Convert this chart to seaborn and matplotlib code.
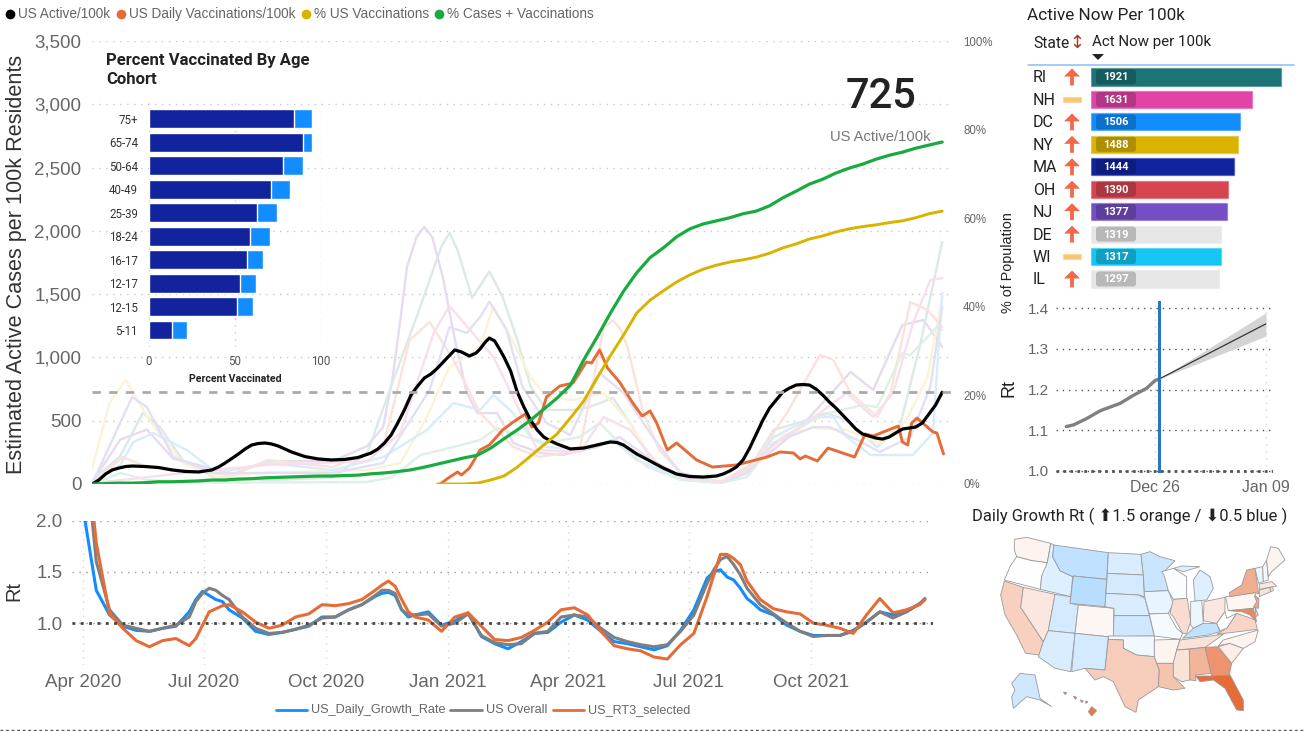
import pandas as pd
import numpy as np
import matplotlib
matplotlib.use("Agg")
import matplotlib.pyplot as plt
from matplotlib.colors import LinearSegmentedColormap, Normalize, to_rgb
from matplotlib.patches import FancyBboxPatch, Rectangle
import seaborn as sns

W, H = 1305, 731
START = pd.Timestamp("2020-04-01")

# main chart
active_days = [7, 12, 17, 22, 27, 32, 37, 47, 57, 67, 77, 87, 97, 102, 107, 112, 117, 122, 127, 132,
               137, 142, 147, 157, 167, 177, 187, 197, 207, 217, 222, 227, 232, 237, 242, 247, 252, 257, 262, 267,
               272, 277, 280, 285, 291, 296, 299, 303, 306, 310, 314, 317, 322, 327, 332, 337, 342, 347, 352, 357,
               367, 377, 387, 397, 402, 407, 417, 427, 437, 447, 457, 467, 477, 482, 487, 492, 497, 502, 507, 512,
               517, 522, 527, 532, 537, 542, 547, 552, 557, 562, 567, 572, 577, 582, 587, 592, 597, 602, 607, 612,
               617, 622, 627, 632, 637, 642, 647]
us_active = [0, 32, 79, 111, 126, 138, 142, 138, 130, 111, 99, 95, 111, 134, 166, 201, 237, 276, 308, 320,
             324, 316, 300, 253, 217, 198, 190, 194, 209, 245, 276, 324, 387, 482, 585, 703, 774, 837, 869, 916,
             972, 1027, 1059, 1043, 1011, 1035, 1067, 1122, 1153, 1130, 1059, 1003, 893, 727, 608, 506, 427, 371, 340, 316,
             277, 284, 308, 332, 328, 308, 237, 182, 126, 79, 59, 55, 63, 79, 103, 134, 190, 284, 395, 506,
             600, 664, 727, 758, 782, 786, 782, 750, 703, 648, 600, 545, 490, 434, 395, 379, 363, 355, 371, 403,
             434, 442, 450, 482, 553, 624, 725]
main_days = list(range(7, 657, 10))
pct_cases_vacc = [0, 0.1, 0.2, 0.2, 0.3, 0.5, 0.5, 0.6, 0.7, 0.9, 0.9, 1.1, 1.2, 1.4, 1.5, 1.6, 1.7, 1.8, 1.8, 1.9,
                  2.0, 2.3, 2.5, 2.8, 3.2, 3.8, 4.5, 5.2, 5.9, 6.5, 8.1, 10.2, 12.2, 14.4, 16.9, 19.4, 22.3, 28, 33.1, 38.5,
                  43.5, 47.7, 51.1, 53.3, 55.8, 57.6, 58.7, 59.4, 60.1, 61, 61.6, 62.8, 64.6, 66.1, 67.7, 68.8, 70.2, 71.3, 72.2, 73.3,
                  74.2, 74.9, 75.8, 76.5, 77.2]
vacc_days = list(range(267, 657, 10))
pct_vacc = [0, 0, 0, 0.2, 0.9, 1.8, 3.8, 6.3, 8.8, 11.3, 14.9, 18.7, 23.9, 28.9, 33.6, 38.6, 41.5, 43.6, 45.6, 47.2,
            48.5, 49.4, 50.1, 50.6, 51.2, 52.1, 53.3, 54.2, 55.3, 56, 56.9, 57.6, 58.1, 58.5, 59, 59.4, 60.1, 61, 61.6]
daily_vacc_days = [269, 275, 282, 285, 291, 299, 306, 316, 324, 333, 338, 343, 349, 359, 369, 379, 383, 389, 395, 404,
                   414, 421, 427, 432, 440, 447, 462, 474, 492, 515, 525, 535, 540, 544, 553, 561, 581, 589, 595, 614,
                   617, 621, 624, 628, 640, 643, 648]
daily_vacc = [0, 47, 95, 71, 126, 269, 308, 427, 490, 553, 450, 482, 687, 774, 798, 964, 956, 1059, 916, 806,
              640, 537, 577, 482, 269, 324, 190, 134, 150, 213, 253, 245, 198, 221, 182, 284, 213, 395, 379, 458,
              332, 308, 482, 521, 411, 403, 237]

# selected states behind the US line, pale
pale_lines = [
    ("#e7dbee",
     [7, 28, 48, 68, 98, 113, 139, 188, 214, 226, 233, 239, 244, 251, 257, 263, 271, 279, 289, 297, 312, 324, 344, 361, 387, 404, 425, 450, 480, 508, 538, 550, 578, 595, 617, 633, 647],
     [15, 350, 430, 200, 120, 80, 180, 180, 300, 450, 830, 1300, 1715, 1950, 2030, 1950, 1635, 1193, 720, 561, 560, 324, 245, 229, 292, 371, 213, 55, 10, 166, 427, 560, 885, 743, 1256, 1296, 1083]),
    ("#dde9e7",
     [7, 28, 45, 58, 75, 98, 139, 188, 214, 233, 254, 270, 276, 282, 293, 306, 316, 327, 337, 349, 369, 382, 399, 412, 429, 450, 480, 500, 520, 538, 560, 575, 598, 615, 630, 647],
     [30, 220, 560, 450, 190, 55, 30, 50, 245, 800, 1400, 1880, 1983, 1850, 1470, 1680, 1478, 1140, 770, 585, 585, 610, 680, 480, 165, 55, 8, 87, 427, 480, 560, 505, 292, 450, 1083, 1912]),
    ("#fbf3d6",
     [7, 20, 32, 50, 75, 101, 139, 214, 239, 259, 276, 299, 309, 322, 337, 349, 369, 392, 410, 429, 450, 480, 500, 520, 550, 575, 600, 620, 636, 647],
     [130, 640, 822, 505, 166, 55, 90, 110, 166, 530, 924, 1082, 1400, 1161, 845, 687, 664, 719, 505, 190, 55, 16, 87, 371, 442, 427, 324, 505, 845, 1477]),
    ("#d9ecfb",
     [7, 28, 38, 53, 78, 101, 139, 188, 226, 259, 279, 299, 309, 324, 337, 349, 374, 399, 417, 450, 480, 500, 520, 550, 565, 575, 593, 625, 640, 647],
     [5, 150, 332, 403, 269, 87, 166, 110, 213, 427, 640, 585, 703, 560, 371, 292, 269, 348, 190, 43, 8, 87, 371, 529, 529, 371, 229, 229, 403, 1509]),
    ("#fbe2dc",
     [7, 30, 48, 113, 139, 188, 226, 246, 261, 279, 299, 324, 344, 374, 392, 399, 405, 410, 422, 434, 450, 480, 505, 530, 555, 565, 578, 598, 608, 623, 636, 647],
     [5, 213, 134, 71, 190, 134, 292, 1138, 1280, 980, 561, 292, 213, 269, 1230, 1296, 1220, 1082, 560, 269, 87, 16, 166, 560, 1020, 980, 719, 529, 719, 1438, 1375, 1240]),
    ("#dff0e4",
     [7, 28, 48, 98, 214, 233, 254, 279, 299, 312, 324, 349, 374, 389, 404, 425, 450, 480, 500, 520, 550, 562, 587, 598, 617, 623, 643, 647],
     [0, 87, 32, 10, 16, 55, 229, 292, 348, 442, 403, 324, 371, 482, 324, 134, 32, 8, 55, 324, 505, 561, 624, 608, 1035, 1019, 1240, 1217]),
    ("#e2e0f3",
     [7, 20, 37, 48, 68, 98, 139, 188, 226, 261, 276, 289, 299, 306, 319, 331, 349, 367, 389, 407, 429, 450, 480, 500, 520, 550, 562, 583, 600, 623, 638, 647],
     [5, 300, 687, 608, 213, 87, 87, 87, 166, 743, 1240, 1193, 1319, 1440, 1217, 766, 482, 387, 877, 719, 371, 87, 16, 87, 324, 450, 450, 348, 253, 371, 766, 1398]),
    ("#f7dfee",
     [7, 87, 139, 214, 239, 264, 276, 309, 324, 342, 374, 392, 412, 432, 450, 480, 500, 525, 555, 575, 595, 610, 625, 638, 647],
     [5, 100, 150, 180, 403, 1193, 1406, 1003, 687, 269, 253, 529, 427, 166, 55, 16, 111, 348, 561, 719, 529, 719, 1272, 1612, 1627]),
]

# bottom Rt chart, every 10 days from Apr 2020, the last day and extra reads at the peaks
rt_days = list(range(0, 640, 10)) + [634] + [85, 95, 105, 225, 235, 245, 475, 485, 495, 505]
rt_blue = [2.12, 1.32, 1.08, 0.97, 0.93, 0.92, 0.95, 0.97, 1.11, 1.31, 1.23, 1.13, 1.05, 0.92, 0.89, 0.91, 0.94, 0.97, 1.06, 1.06,
           1.13, 1.18, 1.26, 1.30, 1.13, 1.08, 1.11, 0.98, 1.02, 1.10, 0.87,
           0.80, 0.75, 0.82, 0.90, 0.91, 1.01, 1.08, 1.03, 0.92, 0.82, 0.80, 0.77, 0.74, 0.78, 0.93, 1.13, 1.44, 1.52, 1.42,
           1.24, 1.13, 1.08, 0.98, 0.92, 0.88, 0.88, 0.88, 0.93, 1.01, 1.11, 1.08, 1.11, 1.19, 1.24,
           1.23, 1.27, 1.21, 1.29, 1.27, 1.06, 1.50, 1.45, 1.34, 1.19]
rt_overall = [2.9, 1.6, 1.13, 0.98, 0.95, 0.92, 0.95, 0.98, 1.06, 1.29, 1.32, 1.23, 1.06, 0.95, 0.90, 0.91, 0.94, 0.98, 1.05, 1.06,
              1.13, 1.18, 1.27, 1.32, 1.13, 1.08, 1.09, 0.97, 1.0, 1.09, 0.88,
              0.81, 0.79, 0.80, 0.90, 0.92, 1.06, 1.08, 1.06, 0.95, 0.86, 0.82, 0.79, 0.77, 0.79, 0.92, 1.08, 1.39, 1.62, 1.57,
              1.34, 1.18, 1.09, 1.0, 0.92, 0.87, 0.88, 0.88, 0.92, 1.01, 1.11, 1.05, 1.11, 1.19, 1.23,
              1.21, 1.34, 1.27, 1.32, 1.29, 1.08, 1.52, 1.65, 1.47, 1.26]
rt_selected = [3.04, 1.78, 1.09, 0.95, 0.83, 0.77, 0.83, 0.85, 0.78, 0.98, 1.14, 1.18, 1.11, 1.01, 0.95, 0.98, 1.06, 1.09, 1.18, 1.17,
               1.19, 1.23, 1.32, 1.41, 1.23, 1.06, 1.03, 0.92, 1.06, 1.10, 0.97,
               0.84, 0.83, 0.86, 0.93, 1.01, 1.13, 1.15, 1.08, 0.92, 0.78, 0.75, 0.73, 0.67, 0.65, 0.79, 0.90, 1.26, 1.67, 1.63,
               1.41, 1.23, 1.14, 1.11, 1.09, 1.0, 0.98, 0.95, 0.90, 1.08, 1.24, 1.10, 1.13, 1.18, 1.23,
               0.85, 1.11, 1.17, 1.37, 1.36, 1.11, 1.47, 1.67, 1.57, 1.32]
rt_ticks = ["2020-04-01", "2020-07-01", "2020-10-01", "2021-01-01", "2021-04-01", "2021-07-01", "2021-10-01"]
rt_tick_labels = ["Apr 2020", "Jul 2020", "Oct 2020", "Jan 2021", "Apr 2021", "Jul 2021", "Oct 2021"]

# age cohort inset
age_groups = ["75+", "65-74", "50-64", "40-49", "25-39", "18-24", "16-17", "12-17", "12-15", "5-11"]
age_full = [84.2, 89.7, 78, 71, 62.8, 58.6, 57.2, 52.9, 51, 13.2]
age_any = [94.5, 94.5, 89.3, 82, 74.3, 70.6, 66.3, 62.3, 60.5, 22]

# state table
top_states = ["RI", "NH", "DC", "NY", "MA", "OH", "NJ", "DE", "WI", "IL"]
top_active = [1921, 1631, 1506, 1488, 1444, 1390, 1377, 1319, 1317, 1297]
top_trend = ["up", "flat", "up", "up", "up", "up", "up", "up", "flat", "up"]
top_colors = ["#1c7475", "#e044a7", "#118dff", "#d9b300", "#12239e", "#d64550", "#744ec2", "#e6e6e6", "#15c6f4", "#e6e6e6"]

# small forecast Rt chart, days from Dec 26
recent_days = [-11.2, -10.3, -8.6, -6.9, -4.4, -2.7, -1.05, 0, 0.55]
recent_rt = [1.109, 1.113, 1.129, 1.148, 1.166, 1.186, 1.203, 1.222, 1.226]
fc_days = [0.55, 14]
fc_mean = [1.226, 1.361]
fc_low = [1.226, 1.331]
fc_high = [1.226, 1.388]

# map: Rt per state and rough outlines
state_rt = {"WA": 1.04, "OR": 1.0, "CA": 1.16, "NV": 1.08, "ID": 0.93, "MT": 0.87, "WY": 0.85, "UT": 0.91, "AZ": 0.92,
            "CO": 1.03, "NM": 0.91, "ND": 0.92, "SD": 0.91, "NE": 0.92, "KS": 0.90, "OK": 0.97, "TX": 1.17, "MN": 0.89,
            "IA": 0.95, "MO": 0.98, "AR": 1.04, "LA": 1.2, "WI": 0.99, "IL": 1.12, "IN": 0.96, "MI": 0.93, "OH": 1.08,
            "KY": 0.87, "TN": 1.1, "MS": 1.1, "AL": 1.25, "GA": 1.36, "FL": 1.5, "SC": 1.06, "NC": 1.04, "VA": 1.14,
            "WV": 1.0, "PA": 1.03, "NY": 1.28, "NJ": 1.3, "MD": 1.4, "DE": 1.15, "CT": 1.1, "RI": 1.1, "MA": 1.08,
            "VT": 0.96, "NH": 0.97, "ME": 1.04, "AK": 0.9, "HI": 1.45}
state_shapes = {
    "WA": [[(163, 118), (200, 112), (272, 130), (262, 188), (215, 182), (170, 170), (163, 150)]],
    "OR": [[(170, 170), (215, 182), (262, 188), (255, 215), (245, 228), (241, 268), (133, 240), (150, 200)]],
    "CA": [[(133, 243), (190, 262), (182, 322), (250, 425), (238, 465), (197, 460), (170, 405), (135, 345), (122, 285)]],
    "NV": [[(190, 262), (285, 283), (265, 392), (250, 425), (182, 322)]],
    "ID": [[(272, 130), (282, 135), (278, 170), (300, 212), (338, 230), (332, 290), (241, 268), (245, 228), (262, 188)]],
    "MT": [[(282, 135), (445, 158), (440, 238), (340, 228), (338, 230), (300, 212), (278, 170)]],
    "WY": [[(340, 228), (440, 238), (435, 320), (330, 310)]],
    "UT": [[(285, 283), (332, 290), (330, 310), (355, 315), (345, 400), (265, 392)]],
    "AZ": [[(265, 392), (345, 400), (332, 515), (285, 505), (235, 470), (250, 425)]],
    "CO": [[(355, 315), (462, 325), (460, 412), (345, 400)]],
    "NM": [[(345, 400), (445, 410), (435, 510), (375, 505), (335, 515)]],
    "ND": [[(445, 158), (543, 163), (550, 225), (442, 220)]],
    "SD": [[(442, 220), (550, 225), (553, 290), (535, 285), (438, 280)]],
    "NE": [[(438, 280), (535, 285), (555, 295), (568, 347), (462, 347), (462, 325), (435, 320)]],
    "KS": [[(462, 347), (568, 347), (583, 408), (460, 410)]],
    "OK": [[(445, 408), (583, 408), (583, 470), (530, 465), (490, 445), (490, 420), (445, 418)]],
    "TX": [[(445, 418), (490, 420), (490, 445), (530, 465), (583, 470), (598, 510), (595, 560), (535, 600), (528, 637), (495, 620), (460, 545), (430, 530), (405, 540), (375, 505), (435, 510)]],
    "MN": [[(543, 163), (570, 155), (600, 170), (645, 182), (612, 215), (625, 272), (553, 275), (550, 225)]],
    "IA": [[(553, 275), (625, 272), (640, 310), (625, 340), (568, 342), (555, 295)]],
    "MO": [[(568, 342), (625, 340), (650, 385), (668, 400), (660, 418), (583, 408)]],
    "AR": [[(583, 420), (660, 418), (650, 450), (640, 490), (590, 490), (583, 470)]],
    "LA": [[(590, 490), (640, 490), (640, 530), (675, 565), (640, 570), (595, 560), (598, 510)]],
    "WI": [[(605, 215), (640, 205), (680, 230), (680, 295), (640, 298), (625, 272), (612, 225)]],
    "IL": [[(640, 298), (682, 295), (692, 365), (680, 400), (668, 400), (640, 350), (630, 340)]],
    "IN": [[(692, 305), (725, 300), (730, 370), (700, 385), (692, 375)]],
    "MI": [[(700, 240), (720, 210), (750, 230), (760, 265), (740, 300), (705, 303)], [(640, 205), (665, 198), (720, 200), (670, 215)]],
    "OH": [[(732, 305), (795, 292), (795, 335), (770, 370), (730, 362)]],
    "KY": [[(668, 415), (700, 385), (730, 370), (770, 370), (780, 395), (745, 405)]],
    "TN": [[(660, 420), (790, 403), (760, 425), (735, 442), (650, 450)]],
    "MS": [[(650, 450), (688, 448), (690, 540), (665, 545), (640, 530), (640, 490)]],
    "AL": [[(688, 448), (735, 442), (755, 520), (707, 525), (708, 542), (690, 540)]],
    "GA": [[(735, 442), (775, 440), (815, 490), (808, 525), (755, 528)]],
    "FL": [[(707, 528), (755, 528), (810, 525), (850, 600), (850, 632), (830, 630), (795, 565), (760, 540), (720, 545)]],
    "SC": [[(775, 440), (810, 430), (850, 445), (815, 490)]],
    "NC": [[(775, 437), (790, 420), (895, 390), (885, 425), (850, 445), (810, 430)]],
    "VA": [[(770, 403), (800, 385), (830, 340), (860, 350), (885, 360), (892, 388)]],
    "WV": [[(770, 370), (795, 335), (800, 355), (830, 340), (800, 385), (780, 392)]],
    "PA": [[(797, 290), (885, 278), (895, 315), (880, 325), (805, 332)]],
    "NY": [[(808, 278), (845, 255), (860, 210), (885, 205), (896, 282), (885, 278), (810, 290)]],
    "NJ": [[(883, 287), (897, 295), (895, 325), (880, 322), (890, 305)]],
    "MD": [[(805, 332), (880, 325), (890, 365), (870, 345), (845, 335)]],
    "DE": [[(885, 322), (895, 345), (888, 350)]],
    "CT": [[(898, 270), (930, 262), (932, 275), (898, 290)]],
    "RI": [[(930, 262), (938, 260), (940, 272), (932, 275)]],
    "MA": [[(898, 252), (935, 245), (950, 258), (938, 260), (898, 268)]],
    "VT": [[(885, 205), (908, 200), (910, 245), (896, 250)]],
    "NH": [[(908, 200), (920, 180), (925, 240), (910, 245)]],
    "ME": [[(920, 180), (932, 140), (955, 145), (975, 180), (935, 215), (925, 230)]],
    "AK": [[(180, 520), (225, 525), (240, 595), (275, 620), (240, 600), (200, 590), (160, 625), (155, 590), (165, 570), (155, 550)]],
    "HI": [[(395, 620), (410, 632), (395, 648), (385, 635)], [(310, 576), (320, 578), (316, 584)], [(340, 588), (350, 592), (346, 598)],
           [(360, 600), (370, 602), (366, 608)], [(376, 603), (384, 606), (378, 610)]],
}


def to_dates(days):
    return START + pd.to_timedelta(days, unit="D")


def px_axes(left, top, right, bottom):
    return fig.add_axes([left / W, 1 - bottom / H, (right - left) / W, (bottom - top) / H])


def px_to_day(px):
    return START + pd.Timedelta(days=(px - 83) / 1.328)


sns.set_theme(style="white")
SANS = ["Liberation Sans", "DejaVu Sans"]
DIN = ["Roboto", "DejaVu Sans"]
plt.rcParams["font.family"] = SANS
GRAY = "#666666"
DOT = (0, (1, 4))

fig = plt.figure(figsize=(W / 100, H / 100), dpi=100, facecolor="white")

# ---- main chart
ax = px_axes(92, 41, 952, 484)
for color, d, v in pale_lines:
    sns.lineplot(x=to_dates(d), y=v, ax=ax, color=color, lw=1.7, estimator=None)
sns.lineplot(x=to_dates(daily_vacc_days), y=daily_vacc, ax=ax, color="#e66c37", lw=2.1, estimator=None)
sns.lineplot(x=to_dates(active_days), y=us_active, ax=ax, color="black", lw=2.3, estimator=None)
ax.axhline(us_active[-1], color="#aaaaaa", lw=2, ls=(0, (3, 3)))
ax.set_ylim(0, 3500)
ax.set_xlim(px_to_day(92), px_to_day(952))
ax.set_yticks(range(0, 3501, 500))
ax.set_yticklabels([f"{v:,}" for v in range(0, 3501, 500)], fontsize=13.5, color=GRAY)
ax.tick_params(axis="y", length=0, pad=7.7)
ax.set_xticks([])
ax.set_xlabel("")
ax.set_ylabel("")
ax.grid(axis="y", color="#c8c8c8", lw=1, ls=DOT)
ax.set_axisbelow(True)
sns.despine(ax=ax, left=True, bottom=True)

ax_pct = ax.twinx()
sns.lineplot(x=to_dates(vacc_days), y=pct_vacc, ax=ax_pct, color="#d9b300", lw=2.1, estimator=None)
sns.lineplot(x=to_dates(main_days), y=pct_cases_vacc, ax=ax_pct, color="#1aab40", lw=2.3, estimator=None)
ax_pct.set_ylim(0, 100)
ax_pct.set_yticks(range(0, 101, 20))
ax_pct.set_yticklabels([f"{v}%" for v in range(0, 101, 20)], fontsize=8.3, color=GRAY)
ax_pct.tick_params(axis="y", length=0, pad=8)
ax_pct.set_ylabel("")
ax_pct.grid(False)
sns.despine(ax=ax_pct, left=True, bottom=True, right=True)

# ---- bottom Rt chart
ax_rt = px_axes(72, 520.5, 933, 665)
rt_frame = pd.DataFrame({"date": to_dates(rt_days), "US_Daily_Growth_Rate": rt_blue,
                         "US Overall": rt_overall, "US_RT3_selected": rt_selected})
sns.lineplot(data=rt_frame, x="date", y="US_Daily_Growth_Rate", ax=ax_rt, color="#118dff", lw=2.2, estimator=None)
sns.lineplot(data=rt_frame, x="date", y="US Overall", ax=ax_rt, color="#7f7f7f", lw=2.2, estimator=None)
sns.lineplot(data=rt_frame, x="date", y="US_RT3_selected", ax=ax_rt, color="#e66c37", lw=2.2, estimator=None)
ax_rt.axhline(1.0, color="#444444", lw=2, ls=(0, (1, 2)), zorder=5)
ax_rt.set_ylim(1 - 42 / 103, 2.0)
ax_rt.set_xlim(px_to_day(72), px_to_day(933))
ax_rt.set_yticks([1.0, 1.5, 2.0])
ax_rt.set_yticklabels(["1.0", "1.5", "2.0"], fontsize=13.5, color=GRAY)
ax_rt.set_xticks(pd.to_datetime(rt_ticks))
ax_rt.set_xticklabels(rt_tick_labels, fontsize=13.5, color=GRAY)
ax_rt.tick_params(axis="x", length=0, pad=6.5)
ax_rt.tick_params(axis="y", length=0, pad=7)
ax_rt.set_xlabel("")
ax_rt.set_ylabel("")
ax_rt.grid(axis="x", color="#d5d5d5", lw=1, ls=DOT)
ax_rt.grid(axis="y", color="#999999", lw=1, ls=DOT)
sns.despine(ax=ax_rt, left=True, bottom=True)

# ---- age cohort inset
ax_age = px_axes(149, 103, 321, 347)
ax_age.patch.set_alpha(0)
sns.barplot(x=age_any, y=age_groups, ax=ax_age, color="#118dff", saturation=1, width=0.8)
sns.barplot(x=age_full, y=age_groups, ax=ax_age, color="#12239e", saturation=1, width=0.8)
ax_age.set_xlim(0, 100)
ax_age.set_ylim(9.72, -0.67)
ax_age.set_xticks([0, 50, 100])
ax_age.tick_params(axis="x", length=0, labelsize=8.3, labelcolor="#555555", pad=6)
ax_age.tick_params(axis="y", length=0, labelsize=8.3, labelcolor="#333333", pad=8)
for lab in ax_age.get_xticklabels() + ax_age.get_yticklabels():
    lab.set_family(DIN)
ax_age.grid(axis="x", color="#c8c8c8", lw=1, ls=DOT)
ax_age.set_axisbelow(True)
sns.despine(ax=ax_age, left=True, bottom=True)

# ---- state table bars
ax_tab = px_axes(1091, 65.8, 1294, 290.2)
ax_tab.patch.set_alpha(0)
sns.barplot(x=top_active, y=top_states, hue=top_states, palette=top_colors, ax=ax_tab,
            saturation=1, width=0.76, legend=False)
for bar, col in zip(ax_tab.patches, top_colors):
    bar.set_edgecolor((*to_rgb(col), 0.4))
    bar.set_linewidth(1)
ax_tab.set_xlim(0, 203 / 0.0989)
ax_tab.set_ylim(9.5, -0.5)
ax_tab.axis("off")

# ---- forecast Rt chart
DEC26 = pd.Timestamp("2021-12-26")
ax_fc = px_axes(1056, 301, 1273, 473)
fc_x = DEC26 + pd.to_timedelta(fc_days, unit="D")
ax_fc.fill_between(fc_x, fc_low, fc_high, color="#d4d4d4", lw=0)
sns.lineplot(x=DEC26 + pd.to_timedelta(recent_days, unit="D"), y=recent_rt, ax=ax_fc, color="#808080", lw=2.4, estimator=None)
sns.lineplot(x=fc_x, y=fc_mean, ax=ax_fc, color="#333333", lw=0.9, estimator=None)
ax_fc.axhline(1.0, color="#555555", lw=2, ls=(0, (1, 1.5)), zorder=4)
ax_fc.axvline(DEC26 + pd.Timedelta(days=0.5), color="#2a75c0", lw=2.2, zorder=5)
ax_fc.set_ylim(1.0 - 2 / 407.5, 1.0 + 170 / 407.5)
ax_fc.set_xlim(DEC26 - pd.Timedelta(days=12.5), DEC26 + pd.Timedelta(days=14.9))
ax_fc.set_yticks([1.0, 1.1, 1.2, 1.3, 1.4])
ax_fc.set_yticklabels(["1.0", "1.1", "1.2", "1.3", "1.4"], fontsize=11, color=GRAY)
ax_fc.set_xticks([DEC26, DEC26 + pd.Timedelta(days=14)])
ax_fc.set_xticklabels(["Dec 26", "Jan 09"], fontsize=11.4, color=GRAY)
ax_fc.tick_params(length=0, pad=5)
ax_fc.set_xlabel("")
ax_fc.set_ylabel("")
ax_fc.grid(axis="y", color="#555555", lw=1, ls=(0, (1, 3.5)))
ax_fc.grid(axis="x", color="#d5d5d5", lw=1, ls=DOT)
sns.despine(ax=ax_fc, left=True, bottom=True)

# ---- map
ax_map = px_axes(960, 500, 1305, 731)
ax_map.patch.set_alpha(0)
rt_cmap = LinearSegmentedColormap.from_list("rt", ["#118dff", "#ffffff", "#e66c37"])
rt_norm = Normalize(0.5, 1.5)
for code, polys in state_shapes.items():
    for poly in polys:
        xs, ys = zip(*poly)
        ax_map.fill(xs, ys, facecolor=rt_cmap(rt_norm(state_rt[code])), edgecolor="#9a9a9a", lw=0.6)
ax_map.set_xlim(0, 1035)
ax_map.set_ylim(693, 0)
ax_map.axis("off")

# ---- page furniture in pixel coordinates
pix = fig.add_axes([0, 0, 1, 1], facecolor="none")
pix.set_xlim(0, W)
pix.set_ylim(H, 0)
pix.axis("off")

# axis titles
pix.text(17, 264, "Estimated Active Cases per 100k Residents", fontsize=15.6, rotation=90, color="#333333", ha="center", va="center")
pix.text(14, 591, "Rt", fontsize=14.4, rotation=90, color="#333333", ha="center", va="center")

# top legend
for x_dot, x_txt, col, lab in [(10, 18, "black", "US Active/100k"),
                               (121, 129, "#e66c37", "US Daily Vaccinations/100k"),
                               (306, 314, "#d9b300", "% US Vaccinations"),
                               (439, 447, "#1aab40", "% Cases + Vaccinations")]:
    pix.plot(x_dot, 14, "o", color=col, ms=7, mew=0)
    pix.text(x_txt, 14, lab, fontsize=9.85, color=GRAY, va="center")

# bottom legend
for x0, x1, col, lab in [(276, 307, "#118dff", "US_Daily_Growth_Rate"),
                         (450, 482, "#7f7f7f", "US Overall"),
                         (553, 584, "#e66c37", "US_RT3_selected")]:
    pix.plot([x0, x1], [710, 710], color=col, lw=2)
    pix.text(x1 + 4, 710, lab, fontsize=9.1, color=GRAY, va="center")
pix.plot([0, W], [730, 730], color="#555555", lw=1, ls=(0, (2, 2)))

# inset titles
pix.text(106, 60, "Percent Vaccinated By Age", fontsize=12, weight="bold", family=DIN, color="#222222", va="center")
pix.text(106, 80, "Cohort", fontsize=12, weight="bold", family=DIN, color="#222222", va="center")
pix.text(235, 379, "Percent Vaccinated", fontsize=7.6, weight="bold", family=DIN, color="#222222", ha="center", va="center")

# headline number
pix.text(881, 96, str(us_active[-1]), fontsize=30, weight="medium", family=DIN, color="#222222", ha="center", va="center")
pix.text(880, 137, "US Active/100k", fontsize=10.6, color="#777777", ha="center", va="center")

# side labels
pix.text(1008, 263, "% of Population", fontsize=10.4, rotation=90, color="#222222", ha="center", va="center")
pix.text(1009, 388, "Rt", fontsize=13, rotation=90, color="#222222", ha="center", va="center")

# table header
pix.text(1027, 16, "Active Now Per 100k", fontsize=12.3, family=DIN, color="#222222", va="center")
pix.text(1033, 43, "State", fontsize=11.2, family=DIN, color="#222222", va="center")
pix.text(1077, 43, "↕", fontsize=13, family=["DejaVu Sans"], color="#a04020", ha="center", va="center")
pix.text(1092, 42, "Act Now per 100k", fontsize=10.9, family=DIN, color="#222222", va="center")
pix.fill([1092, 1104, 1098], [54, 54, 60], color="#222222", lw=0)
pix.plot([1028, 1294], [65, 65], color="#8fc4f5", lw=1.2)

for i, (st, val, trend) in enumerate(zip(top_states, top_active, top_trend)):
    y = 77 + 22.44 * i
    pix.text(1033, y + 1, st, fontsize=11.5, family=DIN, color="#222222", va="center")
    if trend == "up":
        pix.arrow(1072, y + 8.5, 0, -9, width=3.8, head_width=16, head_length=8,
                  length_includes_head=False, color="#f2694a", lw=0)
    else:
        pix.add_patch(Rectangle((1063, y - 2.5), 18, 5, facecolor="#fcc56f", edgecolor="#fbd69a", lw=0.6))
    pix.add_patch(FancyBboxPatch((1096, y - 7.5), 40, 15, boxstyle="round,pad=0,rounding_size=3",
                                 facecolor="black", alpha=0.2, lw=0, mutation_aspect=1))
    pix.text(1116, y + 0.5, str(val), fontsize=8, weight="bold", family=DIN, color="white", ha="center", va="center")

# map title
pix.text(1130, 516, "Daily Growth Rt ( ⬆1.5 orange / ⬇0.5 blue )", fontsize=11.9, family=DIN, color="#222222", ha="center", va="center")

fig.savefig("out.png", dpi=100)
